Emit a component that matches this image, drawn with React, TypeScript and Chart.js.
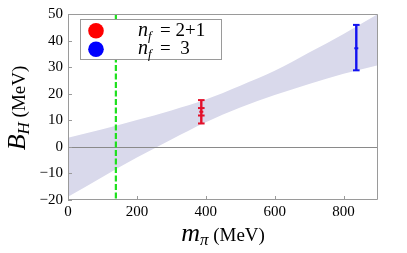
import React, { useEffect, useRef } from "react";
import { Chart, registerables } from "chart.js";

Chart.register(...registerables);

// Band (chiral extrapolation)
const bandMass = [0, 100, 200, 300, 400, 500, 600, 700, 800, 900];
const bandUpper = [3.4, 6.6, 10.1, 13.7, 17.8, 23.0, 28.6, 35.5, 42.5, 50.0];
const bandLower = [-18.8, -11.3, -4.0, 2.8, 9.3, 14.8, 19.5, 23.7, 27.5, 30.7];

// Lattice points
const seriesNames = ["2+1", "3"];
const pointMass = [387, 837];
const pointCenter = [13.2, 37.1];
const statLow = [11.8, null];
const statHigh = [14.6, null];
const totalLow = [8.8, 28.8];
const totalHigh = [17.6, 45.9];
const pointColors = ["#e3102a", "#1212f0"];
const legendColors = ["#ff0000", "#0000ff"];

const physicalPionMass = 139;

const xMin = 0, xMax = 900, xStep = 200;
const yMin = -20, yMax = 50, yStep = 10;

const SERIF = '"Liberation Serif", "DejaVu Serif", serif';

function drawRich(ctx: CanvasRenderingContext2D, parts: { t: string; f: string; dy: number }[], x: number, y: number, center: boolean) {
  let total = 0;
  for (const p of parts) { ctx.font = p.f; total += ctx.measureText(p.t).width; }
  let cx = center ? x - total / 2 : x;
  ctx.textBaseline = "alphabetic";
  ctx.textAlign = "left";
  for (const p of parts) {
    ctx.font = p.f;
    ctx.fillText(p.t, cx, y + p.dy);
    cx += ctx.measureText(p.t).width;
  }
}

const overlay = {
  id: "overlay",
  afterDatasetsDraw(chart: any) {
    const ctx: CanvasRenderingContext2D = chart.ctx;
    const { left, right, top, bottom } = chart.chartArea;
    const xs = chart.scales.x, ys = chart.scales.y;
    ctx.save();
    // zero line
    const y0 = Math.round(ys.getPixelForValue(0)) + 0.5;
    ctx.strokeStyle = "#8a8a8a";
    ctx.lineWidth = 1;
    ctx.beginPath(); ctx.moveTo(left, y0); ctx.lineTo(right, y0); ctx.stroke();

    // physical pion mass
    const gx = xs.getPixelForValue(physicalPionMass);
    ctx.strokeStyle = "#1ee01e";
    ctx.lineWidth = 2.2;
    ctx.setLineDash([6, 2.5]);
    ctx.beginPath(); ctx.moveTo(gx, top); ctx.lineTo(gx, bottom); ctx.stroke();
    ctx.setLineDash([]);

    // error bars
    for (let i = 0; i < pointMass.length; i++) {
      const px = xs.getPixelForValue(pointMass[i]);
      ctx.strokeStyle = pointColors[i];
      ctx.lineWidth = 2.4;
      const yl = ys.getPixelForValue(totalLow[i]);
      const yh = ys.getPixelForValue(totalHigh[i]);
      ctx.beginPath(); ctx.moveTo(px, yl); ctx.lineTo(px, yh); ctx.stroke();
      const cap = (yv: number, w: number) => {
        const yy = ys.getPixelForValue(yv);
        ctx.beginPath(); ctx.moveTo(px - w, yy); ctx.lineTo(px + w, yy); ctx.stroke();
      };
      ctx.lineWidth = 2;
      cap(totalLow[i], 3.3);
      cap(totalHigh[i], 3.3);
      if (statLow[i] != null) cap(statLow[i] as number, 3.3);
      if (statHigh[i] != null) cap(statHigh[i] as number, 3.3);
      cap(pointCenter[i], 2);
    }

    // frame
    ctx.strokeStyle = "#9a9a9a";
    ctx.lineWidth = 1;
    ctx.beginPath();
    ctx.moveTo(left + 0.5, top + 0.5);
    ctx.lineTo(right - 0.5, top + 0.5);
    ctx.lineTo(right - 0.5, bottom - 0.5);
    ctx.lineTo(left + 0.5, bottom - 0.5);
    ctx.closePath();
    ctx.stroke();
    // inward ticks
    ctx.beginPath();
    for (const t of xs.ticks) {
      const px = Math.round(xs.getPixelForValue(t.value)) + 0.5;
      ctx.moveTo(px, bottom); ctx.lineTo(px, bottom - 4);
    }
    for (const t of ys.ticks) {
      const py = Math.round(ys.getPixelForValue(t.value)) + 0.5;
      ctx.moveTo(left, py); ctx.lineTo(left + 4, py);
    }
    ctx.stroke();

    // legend
    ctx.fillStyle = "#ffffff";
    ctx.fillRect(80.5, 19.5, 141, 40);
    ctx.strokeStyle = "#9a9a9a";
    ctx.strokeRect(80.5, 19.5, 141, 40);
    const rowY = [30.7, 49.3];
    for (let i = 0; i < seriesNames.length; i++) {
      ctx.fillStyle = legendColors[i];
      ctx.beginPath(); ctx.arc(96, rowY[i], 7.8, 0, Math.PI * 2); ctx.fill();
      ctx.fillStyle = "#000";
      drawRich(ctx, [
        { t: "n", f: `italic 20px ${SERIF}`, dy: 0 },
        { t: "f", f: `italic 13px ${SERIF}`, dy: 4 },
      ], 138, rowY[i] + 5, false);
      ctx.font = `19px ${SERIF}`;
      ctx.fillText("= " + (i === 0 ? seriesNames[i] : " " + seriesNames[i]), 160, rowY[i] + 5);
    }
    ctx.restore();
  },
  afterDraw(chart: any) {
    const ctx: CanvasRenderingContext2D = chart.ctx;
    const { left, right, top, bottom } = chart.chartArea;
    ctx.save();
    ctx.fillStyle = "#000";
    drawRich(ctx, [
      { t: "m", f: `italic 26px ${SERIF}`, dy: 0 },
      { t: "π", f: `italic 17px ${SERIF}`, dy: 4 },
      { t: " (MeV)", f: `19px ${SERIF}`, dy: 0 },
    ], (left + right) / 2, 241, true);
    ctx.translate(25, (top + bottom) / 2 + 1);
    ctx.rotate(-Math.PI / 2);
    drawRich(ctx, [
      { t: "B", f: `italic 26px ${SERIF}`, dy: 0 },
      { t: "H", f: `italic 17px ${SERIF}`, dy: 4 },
      { t: " (MeV)", f: `19px ${SERIF}`, dy: 0 },
    ], 0, 0, true);
    ctx.restore();
  },
};

export default function App() {
  const ref = useRef<HTMLCanvasElement | null>(null);
  useEffect(() => {
    if (!ref.current) return;
    const chart = new Chart(ref.current, {
      type: "line",
      data: {
        datasets: [
          {
            data: bandMass.map((m, i) => ({ x: m, y: bandLower[i] })),
            borderColor: "transparent",
            borderWidth: 0,
            pointRadius: 0,
            fill: false,
            cubicInterpolationMode: "monotone",
          },
          {
            data: bandMass.map((m, i) => ({ x: m, y: bandUpper[i] })),
            borderColor: "transparent",
            borderWidth: 0,
            pointRadius: 0,
            backgroundColor: "rgb(217,217,235)",
            fill: "-1",
            cubicInterpolationMode: "monotone",
          },
        ],
      },
      options: {
        responsive: false,
        animation: false,
        layout: { padding: { left: 0, top: 8, right: 29, bottom: 0 } },
        plugins: { legend: { display: false }, tooltip: { enabled: false } },
        scales: {
          x: {
            type: "linear",
            min: xMin,
            max: xMax,
            grid: { display: false, drawTicks: false },
            border: { display: false },
            ticks: {
              stepSize: xStep,
              includeBounds: false,
              color: "#000",
              padding: 3,
              maxRotation: 0,
              font: { family: SERIF, size: 15 },
            },
            afterFit: (s: any) => { s.height = 53; },
          },
          y: {
            type: "linear",
            min: yMin,
            max: yMax,
            grid: { display: false, drawTicks: false },
            border: { display: false },
            ticks: {
              stepSize: yStep,
              color: "#000",
              padding: 5,
              font: { family: SERIF, size: 15 },
              callback: (v: any) => (v < 0 ? "\u2212" + Math.abs(v) : String(v)),
            },
            afterFit: (s: any) => { s.width = 68; },
          },
        },
      },
      plugins: [overlay],
    });
    return () => chart.destroy();
  }, []);
  return (
    <div style={{ position: "absolute", left: 0, top: 0, width: 407, height: 253, background: "#fff" }}>
      <canvas ref={ref} width={407} height={253} />
    </div>
  );
}
